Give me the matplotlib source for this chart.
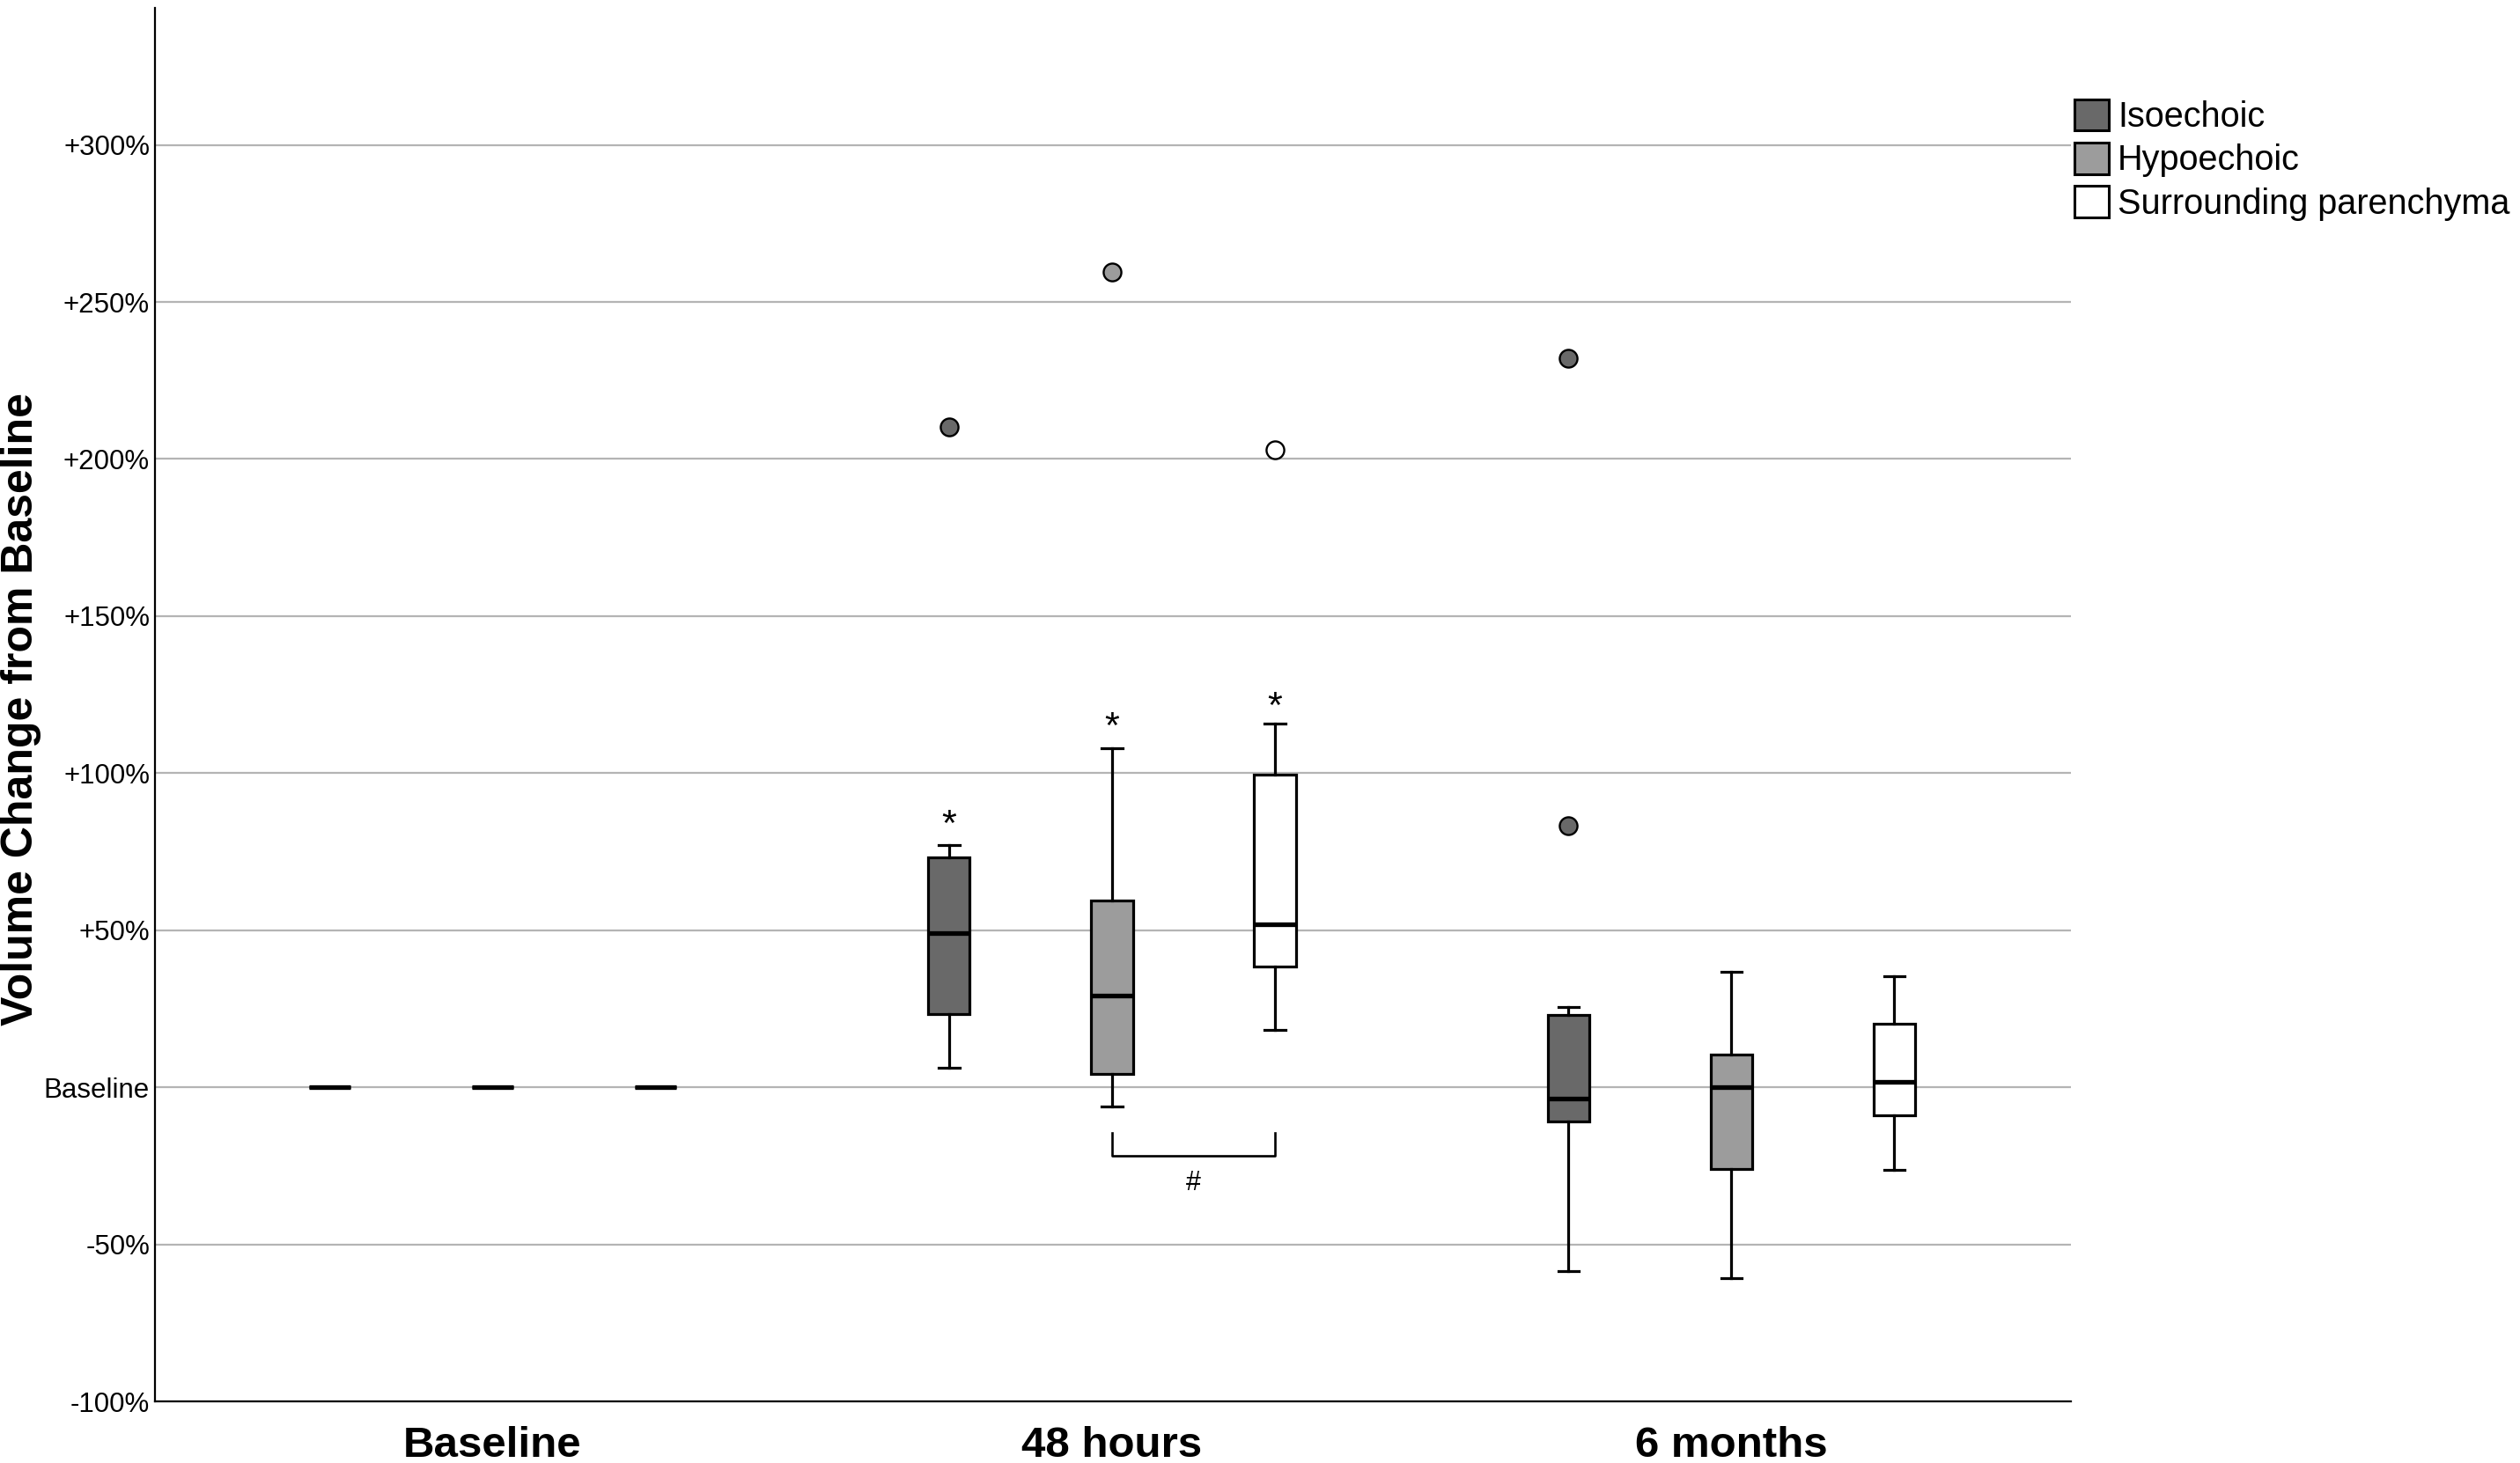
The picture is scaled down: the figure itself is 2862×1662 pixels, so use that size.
import matplotlib
matplotlib.use("Agg")
import matplotlib.pyplot as plt
from matplotlib.patches import Patch

plt.rcParams['font.family'] = ['Liberation Sans', 'DejaVu Sans']

# ---- data ----
timepoints = ['Baseline', '48 hours', '6 months']
series = ['Isoechoic', 'Hypoechoic', 'Surrounding parenchyma']
colors = ['#696969', '#9c9c9c', '#ffffff']

iso_whislo = [0, 6.3, -58.5]
iso_q1 = [0, 23.3, -10.8]
iso_med = [0, 49.0, -3.7]
iso_q3 = [0, 73.3, 22.9]
iso_whishi = [0, 77.1, 25.6]
iso_fliers = [[], [210.3], [232.0, 83.2]]

hypo_whislo = [0, -6.2, -60.9]
hypo_q1 = [0, 4.3, -26.1]
hypo_med = [0, 29.1, 0.0]
hypo_q3 = [0, 59.5, 10.4]
hypo_whishi = [0, 107.8, 36.7]
hypo_fliers = [[], [259.4], []]

surr_whislo = [0, 18.2, -26.2]
surr_q1 = [0, 38.5, -9.0]
surr_med = [0, 51.9, 1.8]
surr_q3 = [0, 99.4, 20.1]
surr_whishi = [0, 115.8, 35.3]
surr_fliers = [[], [202.9], []]

ytick_values = [-100, -50, 0, 50, 100, 150, 200, 250, 300]
ytick_labels = ['-100%', '-50%', 'Baseline', '+50%', '+100%', '+150%',
                '+200%', '+250%', '+300%']

# significance marks at 48 hours (series index, value)
star_series = [0, 1, 2]
star_values = [87.1, 118.2, 124.5]
bracket_pair = [1, 2]
bracket_top = -14.4
bracket_bottom = -21.8
hash_value = -29.7

all_stats = [
    (iso_whislo, iso_q1, iso_med, iso_q3, iso_whishi, iso_fliers),
    (hypo_whislo, hypo_q1, hypo_med, hypo_q3, hypo_whishi, hypo_fliers),
    (surr_whislo, surr_q1, surr_med, surr_q3, surr_whishi, surr_fliers),
]

# ---- figure ----
fig = plt.figure(figsize=(28.62, 16.62), dpi=100)
ax = fig.add_axes([0.0615, 0.0421, 0.7603, 0.9525])

offset = 0.263
width = 0.067

for si, (wlo, q1, med, q3, whi, fl) in enumerate(all_stats):
    stats = []
    positions = []
    for ti in range(len(timepoints)):
        stats.append(dict(med=med[ti], q1=q1[ti], q3=q3[ti],
                          whislo=wlo[ti], whishi=whi[ti], fliers=fl[ti]))
        positions.append(ti + (si - 1) * offset)
    ax.bxp(stats, positions=positions, widths=width, patch_artist=True,
           showfliers=True,
           boxprops=dict(facecolor=colors[si], edgecolor='black', linewidth=2.3),
           medianprops=dict(color='black', linewidth=3.8, solid_capstyle='butt'),
           whiskerprops=dict(color='black', linewidth=2.3),
           capprops=dict(color='black', linewidth=2.3),
           flierprops=dict(marker='o', markerfacecolor=colors[si],
                           markeredgecolor='black', markersize=14.5,
                           markeredgewidth=1.7, linestyle='none'),
           zorder=3)

# asterisks
for s_idx, val in zip(star_series, star_values):
    ax.text(1 + (s_idx - 1) * offset, val - 6.8, '*', fontsize=31,
            ha='center', va='baseline', zorder=4)

# bracket and '#'
xa = 1 + (bracket_pair[0] - 1) * offset
xb = 1 + (bracket_pair[1] - 1) * offset
ax.plot([xa, xa, xb, xb], [bracket_top, bracket_bottom, bracket_bottom, bracket_top],
        color='black', linewidth=1.9, zorder=4)
ax.text((xa + xb) / 2, hash_value - 3.0, '#', fontsize=22, ha='center',
        va='baseline', zorder=4)

ax.set_xlim(-0.545, 2.548)
ax.set_ylim(-100, 343.6)
ax.set_yticks(ytick_values)
ax.set_yticklabels(ytick_labels, fontsize=22.5)
ax.set_xticks(range(len(timepoints)))
ax.set_xticklabels(timepoints, fontsize=35.5, fontweight='bold')
ax.tick_params(axis='y', length=0, pad=4.3)
ax.tick_params(axis='x', length=0, pad=20)
ax.yaxis.grid(True, color='#b4b4b4', linewidth=1.6, zorder=0)
ax.set_axisbelow(True)
for sp in ['top', 'right']:
    ax.spines[sp].set_visible(False)
ax.spines['left'].set_linewidth(1.6)
ax.spines['bottom'].set_linewidth(1.6)

fig.text(24 / 2862, 0.5156, 'Volume Change from Baseline', rotation=90,
         fontsize=36, fontweight='bold', ha='center', va='center')

handles = [Patch(facecolor=c, edgecolor='black', linewidth=2.2) for c in colors]
fig.legend(handles, series, loc='upper left',
           bbox_to_anchor=(2356 / 2862, 1 - 113 / 1662),
           frameon=False, fontsize=28.5, handlelength=0.985, handleheight=1.0,
           handletextpad=0.25, labelspacing=0.25, borderpad=0, borderaxespad=0)

fig.savefig('out.png', dpi=100)
